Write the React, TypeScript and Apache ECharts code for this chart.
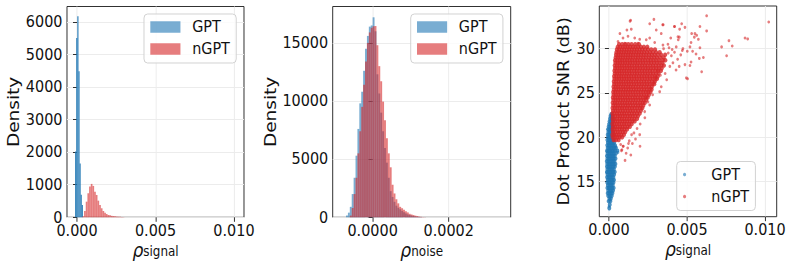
import React, { useEffect, useRef } from 'react';
import * as echarts from 'echarts';

// ---------- data ----------
// Panel 1: histogram of rho_signal (density)
const signalGptStart = -0.00012;
const signalGptWidth = 0.00007;
const signalGptDensity = [2020, 5500, 6170, 4480, 1650, 690, 380];
const signalNgptStart = 0.00034;
const signalNgptWidth = 0.000107;
const signalNgptDensity = [30, 194, 480, 738, 942, 1025, 963, 788, 686, 511, 378, 277, 194, 142, 100, 71, 60, 45, 38, 30, 22, 18, 14, 10, 6];

// Panel 2: histogram of rho_noise (density)
const noiseStart = -0.00007;
const noiseWidth = 0.000005;
const noiseGptDensity = [150, 400, 900, 2000, 3400, 5300, 7600, 9800, 10800, 12600, 14500, 15600, 16400, 16500, 17200, 16000, 12300, 10650, 9000, 7400, 5950, 4700, 3400, 2250, 1750, 1330, 1000, 820, 690, 550, 430, 330, 250, 200, 150, 110, 70, 50, 30, 20, 10, 5];
const noiseNgptDensity = [0, 0, 150, 800, 2000, 3400, 5500, 7400, 9500, 11400, 13400, 15000, 15900, 16300, 16430, 16450, 14800, 13000, 11700, 9950, 8350, 6800, 5500, 4300, 2800, 2050, 1550, 1200, 900, 780, 650, 520, 420, 300, 240, 195, 140, 105, 60, 40, 20, 10];

// Panel 3: scatter, rho_signal (x, in units of 1e-4) vs SNR (dB)
const X_UNIT = 1e-4;
const gptRows: [number, number[]][] = [
  [12.0, [0.2]], [12.4, [0.5]], [12.8, [-0.2, 0.9]], [13.1, [0.3, 1.2]],
  [13.4, [-0.5, 0.6, 1.8]], [13.7, [-0.8, 0.2, 1.2, 2.2]], [14.0, [-0.5, 0.6, 1.6, 2.6]],
  [14.3, [-1.0, 0.0, 1.0, 2.0, 3.0]], [14.6, [-0.7, 0.4, 1.4, 2.4]], [14.9, [-1.1, -0.1, 0.9, 1.9, 2.9]],
  [15.2, [-0.8, 0.3, 1.3, 2.3, 3.2]], [15.5, [-1.2, -0.2, 0.8, 1.8, 2.8]], [15.8, [-0.9, 0.2, 1.2, 2.2, 3.3]],
  [16.1, [-1.3, -0.3, 0.7, 1.7, 2.7, 3.7]], [16.4, [-1.0, 0.1, 1.1, 2.1, 3.1]], [16.7, [-1.3, -0.3, 0.7, 1.7, 2.7, 3.8]],
  [17.0, [-1.1, 0.0, 1.0, 2.0, 3.0, 4.1]], [17.3, [-1.4, -0.4, 0.6, 1.6, 2.6, 3.5]], [17.6, [-1.0, 0.0, 1.0, 2.0, 3.0, 4.2]],
  [17.9, [-1.3, -0.3, 0.7, 1.7, 2.7, 3.7]], [18.2, [-0.9, 0.1, 1.1, 2.1, 3.1, 4.5]], [18.5, [-1.2, -0.2, 0.8, 1.8, 2.8, 3.8, 5.4]],
  [18.8, [-0.8, 0.2, 1.2, 2.2, 3.2, 4.4]], [19.1, [-1.1, -0.1, 0.9, 1.9, 2.9, 3.9]], [19.4, [-0.7, 0.3, 1.3, 2.3, 3.3]],
  [19.7, [-1.0, 0.0, 1.0, 2.0, 3.0]], [20.0, [-0.6, 0.4, 1.4, 2.4]], [20.3, [-0.8, 0.1, 1.1, 2.1, 3.0]],
  [20.6, [-0.4, 0.6, 1.6, 2.5]], [20.9, [-0.6, 0.3, 1.3, 2.3]], [21.2, [-0.2, 0.8, 1.8, 2.7]],
  [21.5, [0.1, 1.1, 2.1]], [21.8, [0.4, 1.4, 2.4]], [22.1, [0.7, 1.7, 2.6]], [22.4, [1.0, 2.0]], [22.6, [1.5]],
];
const gptStray: [number, number][] = [[0.0, 12.2], [0.6, 13.0], [-1.6, 16.0], [4.6, 18.9], [5.8, 18.3], [-1.5, 18.4]];
const ngptRows: [number, number[]][] = [
  [19.7, [3, 4.5, 6.2]],
  [20.0, [2.4, 3.8, 5.3, 6.8, 8.4]],
  [20.3, [2.2, 3.4, 4.9, 6.3, 7.9, 9.6]],
  [20.6, [2.6, 4.1, 5.6, 7.2, 8.8, 10.4]],
  [20.9, [2.3, 3.7, 5.2, 6.8, 8.3, 9.9, 11.6]],
  [21.2, [2.5, 4.0, 5.5, 7.1, 8.6, 10.2, 11.9, 13.4]],
  [21.5, [2.2, 3.6, 5.1, 6.6, 8.2, 9.8, 11.3, 13.0, 14.6]],
  [21.8, [2.6, 4.0, 5.5, 7.0, 8.6, 10.1, 11.7, 13.3, 15.0, 16.5]],
  [22.1, [2.3, 3.7, 5.2, 6.8, 8.3, 9.9, 11.5, 13.1, 14.7, 16.4, 18.0]],
  [22.4, [2.5, 4.0, 5.6, 7.1, 8.7, 10.3, 11.9, 13.5, 15.1, 16.8, 18.6]],
  [22.7, [2.2, 3.6, 5.2, 6.7, 8.3, 9.8, 11.4, 13.0, 14.7, 16.3, 18.0, 19.7]],
  [23.0, [2.6, 4.1, 5.6, 7.2, 8.8, 10.4, 12.0, 13.6, 15.2, 16.9, 18.6, 20.4]],
  [23.3, [2.3, 3.8, 5.3, 6.9, 8.4, 10.0, 11.6, 13.2, 14.8, 16.5, 18.2, 19.9, 21.4]],
  [23.6, [2.7, 4.2, 5.7, 7.3, 8.9, 10.5, 12.1, 13.7, 15.4, 17.0, 18.7, 20.3, 22.0]],
  [23.9, [2.4, 3.9, 5.4, 7.0, 8.6, 10.2, 11.8, 13.4, 15.0, 16.7, 18.4, 20.1, 21.7, 23.0]],
  [24.2, [2.8, 4.3, 5.8, 7.4, 9.0, 10.6, 12.2, 13.8, 15.5, 17.1, 18.8, 20.5, 22.2, 23.8]],
  [24.5, [2.5, 4.0, 5.6, 7.1, 8.7, 10.3, 11.9, 13.5, 15.2, 16.8, 18.5, 20.2, 21.9, 23.5, 24.8]],
  [24.8, [2.9, 4.4, 6.0, 7.5, 9.1, 10.7, 12.3, 13.9, 15.6, 17.2, 18.9, 20.6, 22.3, 24.0, 25.6]],
  [25.1, [2.7, 4.2, 5.7, 7.3, 8.9, 10.5, 12.1, 13.7, 15.3, 17.0, 18.7, 20.4, 22.1, 23.7, 25.3, 26.6]],
  [25.4, [3.1, 4.6, 6.1, 7.7, 9.3, 10.9, 12.5, 14.1, 15.8, 17.4, 19.1, 20.8, 22.5, 24.2, 25.9, 27.3]],
  [25.7, [2.9, 4.4, 5.9, 7.5, 9.1, 10.7, 12.3, 13.9, 15.5, 17.2, 18.9, 20.6, 22.3, 24.0, 25.7, 27.5]],
  [26.0, [3.3, 4.8, 6.3, 7.9, 9.5, 11.1, 12.7, 14.3, 16.0, 17.6, 19.3, 21.0, 22.7, 24.4, 26.1, 27.8, 29.0]],
  [26.3, [3.1, 4.6, 6.2, 7.7, 9.3, 10.9, 12.5, 14.1, 15.7, 17.4, 19.1, 20.8, 22.5, 24.2, 25.9, 27.6, 29.4]],
  [26.6, [3.5, 5.0, 6.5, 8.1, 9.7, 11.3, 12.9, 14.5, 16.2, 17.8, 19.5, 21.2, 22.9, 24.6, 26.3, 28.0, 29.7, 30.8]],
  [26.9, [3.3, 4.8, 6.4, 7.9, 9.5, 11.1, 12.7, 14.3, 16.0, 17.6, 19.3, 21.0, 22.7, 24.4, 26.1, 27.9, 29.6, 31.3]],
  [27.2, [3.7, 5.2, 6.7, 8.3, 9.9, 11.5, 13.1, 14.7, 16.4, 18.0, 19.7, 21.4, 23.1, 24.8, 26.5, 28.2, 30.0, 31.8]],
  [27.5, [3.5, 5.0, 6.6, 8.1, 9.7, 11.3, 12.9, 14.5, 16.2, 17.8, 19.5, 21.2, 22.9, 24.6, 26.3, 28.0, 29.8, 31.6, 33.3]],
  [27.8, [3.9, 5.4, 6.9, 8.5, 10.1, 11.7, 13.3, 14.9, 16.6, 18.2, 19.9, 21.6, 23.3, 25.0, 26.7, 28.5, 30.2, 32.0, 33.8]],
  [28.1, [3.7, 5.2, 6.8, 8.3, 9.9, 11.5, 13.1, 14.7, 16.4, 18.0, 19.7, 21.4, 23.1, 24.8, 26.6, 28.3, 30.1, 31.9, 33.7, 35.2]],
  [28.4, [4.1, 5.6, 7.1, 8.7, 10.3, 11.9, 13.5, 15.1, 16.8, 18.4, 20.1, 21.8, 23.5, 25.3, 27.0, 28.8, 30.6, 32.4, 34.3]],
  [28.7, [3.9, 5.4, 7.0, 8.5, 10.1, 11.7, 13.3, 14.9, 16.6, 18.2, 19.9, 21.6, 23.3, 25.1, 26.8, 28.6, 30.4, 32.3, 34.5, 36.1]],
  [29.0, [4.3, 5.8, 7.3, 8.9, 10.5, 12.1, 13.7, 15.3, 17.0, 18.6, 20.3, 22.0, 23.7, 25.5, 27.2, 29.0, 30.8, 32.8, 35.0]],
  [29.3, [4.5, 6.0, 7.5, 9.1, 10.7, 12.3, 13.9, 15.5, 17.2, 18.8, 20.5, 22.2, 23.9, 25.7, 27.5, 29.3, 31.2, 33.4, 36.0]],
  [29.6, [4.8, 6.3, 7.9, 9.5, 11.1, 12.7, 14.3, 15.9, 17.6, 19.2, 20.9, 22.6, 24.4, 26.2, 28.1, 30.2, 32.5]],
  [29.9, [5.1, 6.6, 8.2, 9.8, 11.4, 13.0, 14.6, 16.3, 17.9, 19.6, 21.3, 23.1, 25.0, 27.1, 29.5]],
  [30.2, [5.6, 7.2, 8.8, 10.4, 12.0, 13.6, 15.3, 17.0, 18.7, 20.5, 22.4, 24.6]],
  [30.5, [6.5, 8.5, 10.6, 12.4, 14.5, 16.8, 19.2]],
];
const ngptOutliers: [number, number][] = [
  [62.6, 33.7], [102.4, 33.0], [34.4, 32.7], [41.9, 32.5], [46.6, 32.8], [48.7, 32.4], [58.3, 32.5], [62.6, 32.0],
  [53.0, 31.7], [55.1, 31.7], [56.2, 31.5], [54.7, 31.3], [57.3, 31.05], [45.1, 31.3], [44.4, 31.0], [76.9, 30.9],
  [87.2, 31.2], [88.9, 31.1], [79.0, 30.3], [72.2, 30.2], [75.4, 29.2], [52.6, 30.7], [51.9, 30.2], [58.3, 30.1],
  [53.6, 29.7], [55.8, 29.4], [60.5, 29.0], [57.9, 28.9], [52.6, 28.5], [51.9, 28.1], [48.7, 28.2], [59.4, 27.4],
  [50.4, 26.6], [28.8, 33.3], [13.5, 33.1], [34.8, 32.7], [19.9, 19.0], [10.3, 17.4], [7.0, 31.7], [13.9, 33.2],
  [26.1, 32.8], [11.5, 32.1], [14.3, 32.2], [30.3, 32.1], [42.1, 32.5], [45.3, 32.2], [33.5, 31.7], [9.0, 31.2],
  [12.2, 31.4], [16.5, 31.2], [19.7, 31.05], [23.9, 31.0], [26.1, 31.2], [39.6, 31.2], [44.2, 31.35], [5.8, 30.8],
  [10.1, 30.6], [18.6, 30.6], [29.3, 30.7], [34.6, 30.4], [37.8, 30.5], [43.1, 30.2], [47.4, 30.0], [50.2, 29.7],
  [49.6, 26.7], [33.5, 25.7], [32.5, 25.15], [26.1, 23.65], [22.9, 22.9],
  [38.0, 29.5], [40.0, 29.2], [42.0, 29.6], [44.0, 28.8], [46.0, 29.3], [41.0, 28.4], [39.0, 28.0], [43.0, 27.6],
  [36.0, 27.2], [37.0, 26.5], [45.0, 28.0], [47.0, 29.8], [35.0, 30.0], [38.5, 30.1], [40.5, 29.9],
  [24.0, 24.5], [27.0, 25.5], [29.0, 26.2], [30.0, 26.8], [21.0, 23.2], [25.0, 24.0], [31.0, 27.5], [33.0, 27.0],
  [28.0, 24.8], [23.0, 22.2], [20.0, 21.5], [18.0, 21.0], [16.0, 20.5], [17.0, 19.8], [13.0, 19.6], [15.0, 19.3],
  [12.0, 18.8], [9.0, 19.0], [11.0, 18.2], [8.0, 18.5], [14.0, 18.0], [7.5, 19.2], [9.2, 19.0], [8.3, 18.6],
  [12.5, 19.3], [14.5, 20.3], [19.7, 20.3],
];

// tick labels
const signalTicks = [0, 0.005, 0.01];
const noiseTicks = [0, 0.0002];
const density1Ticks = [0, 1000, 2000, 3000, 4000, 5000, 6000];
const density2Ticks = [0, 5000, 10000, 15000];
const snrTicks = [15, 20, 25, 30];

// ---------- styling ----------
const SX = 0.9; // the reference figure is squeezed horizontally
const W = 793;
const H = 262;
const IW = W / SX;
const FONT = 'DejaVu Sans';
const TXT = '#111111';
const FRAME = '#262626';
const BLUE_A = 'rgba(31,119,180,0.6)';
const RED_A = 'rgba(214,39,40,0.6)';

const toBins = (start: number, width: number, h: number[]) =>
  h.map((v, i) => [start + i * width, start + (i + 1) * width, v]);
const rowsToPoints = (rows: [number, number[]][]) => {
  const out: number[][] = [];
  rows.forEach(([y, xs]) => xs.forEach((x) => out.push([x * X_UNIT, y])));
  return out;
};
const scalePts = (pts: [number, number][]) => pts.map(([x, y]) => [x * X_UNIT, y]);

const hist = (name: string, idx: number, data: number[][], color: string) => ({
  type: 'custom',
  name,
  xAxisIndex: idx,
  yAxisIndex: idx,
  data,
  silent: true,
  encode: { x: [0, 1], y: 2 },
  itemStyle: { color },
  renderItem: (_p: any, api: any) => {
    const a = api.coord([api.value(0), api.value(2)]);
    const b = api.coord([api.value(1), 0]);
    return {
      type: 'rect',
      shape: { x: a[0], y: a[1], width: b[0] - a[0], height: b[1] - a[1] },
      style: { fill: color },
    };
  },
});

const xName = (sub: string) => `{r|ρ}{s|${sub}}`;
const xNameStyle = {
  color: TXT,
  fontFamily: FONT,
  rich: {
    r: { fontFamily: FONT, fontSize: 19, fontStyle: 'italic', color: TXT, padding: [0, 0, 3, 0] },
    s: { fontFamily: FONT, fontSize: 13.3, color: TXT },
  },
};

const mkX = (idx: number, min: number, max: number, ticks: number[], dec: number, sub: string) => ({
  type: 'value',
  gridIndex: idx,
  min,
  max,
  name: xName(sub),
  nameLocation: 'middle',
  nameGap: 23,
  nameMoveOverlap: false,
  nameTextStyle: xNameStyle,
  axisLine: { show: false },
  axisTick: { show: true, length: 4.5, customValues: ticks, lineStyle: { color: FRAME, width: 1 } },
  axisLabel: { customValues: ticks, formatter: (v: number) => v.toFixed(dec), fontFamily: FONT, fontSize: 16, lineHeight: 13, color: TXT, margin: 7 },
  splitLine: { show: true, lineStyle: { color: '#ebebeb', width: 1 } },
});

const mkY = (idx: number, min: number, max: number, ticks: number[], name: string, gap: number, nameSize: number) => ({
  type: 'value',
  gridIndex: idx,
  min,
  max,
  name,
  nameLocation: 'middle',
  nameGap: gap,
  nameMoveOverlap: false,
  nameTextStyle: { fontFamily: FONT, fontSize: nameSize, color: TXT },
  axisLine: { show: false },
  axisTick: { show: true, length: 4.5, customValues: ticks, lineStyle: { color: FRAME, width: 1 } },
  axisLabel: { customValues: ticks, formatter: (v: number) => String(v), fontFamily: FONT, fontSize: 16, lineHeight: 13, color: TXT, margin: 5 },
  splitLine: { show: true, lineStyle: { color: '#ebebeb', width: 1 } },
});

const mkLegend = (left: number, top: number, icon: string, iw: number, ih: number) => ({
  orient: 'vertical',
  left,
  top,
  selectedMode: false,
  itemWidth: iw,
  itemHeight: ih,
  itemGap: 6,
  padding: [5, 7, 6, 7],
  backgroundColor: 'rgba(255,255,255,0.8)',
  borderColor: '#d0d0d0',
  borderWidth: 1,
  borderRadius: 4,
  textStyle: { fontFamily: FONT, fontSize: 16, color: TXT, padding: [0, 0, 0, 8] },
  data: [
    { name: 'GPT', icon, itemStyle: { color: BLUE_A } },
    { name: 'nGPT', icon, itemStyle: { color: RED_A } },
  ],
});

export default function App() {
  const ref = useRef<HTMLDivElement>(null);
  useEffect(() => {
    document.body.style.margin = '0';
    const chart = echarts.init(ref.current as HTMLDivElement, null, { renderer: 'svg' });
    const grid = (left: number, right: number, top: number, bottom: number) => ({
      left: left / SX,
      width: (right - left) / SX,
      top,
      height: bottom - top,
      outerBoundsMode: 'none',
      containLabel: false,
      show: true,
      borderColor: FRAME,
      borderWidth: 1,
      backgroundColor: 'transparent',
    });
    const option: any = {
      animation: false,
      grid: [grid(67, 244, 6.5, 217.3), grid(332.7, 510.7, 6.5, 217.3), grid(599.3, 776.7, 6, 216.7)],
      xAxis: [
        mkX(0, -0.00064, 0.01064, signalTicks, 3, 'signal'),
        mkX(1, -0.000105, 0.000363, noiseTicks, 4, 'noise'),
        mkX(2, -0.00062, 0.01075, signalTicks, 3, 'signal'),
      ],
      yAxis: [
        mkY(0, 0, 6470, density1Ticks, 'Density', 50, 18.5),
        mkY(1, 0, 18130, density2Ticks, 'Density', 60, 18.5),
        mkY(2, 11.05, 34.81, snrTicks, 'Dot Product SNR (dB)', 31, 17.6),
      ],
      legend: [
        mkLegend(144 / SX, 14, 'rect', 33.5, 11.5),
        mkLegend(410.7 / SX, 14, 'rect', 33.5, 11.5),
        mkLegend(676.7 / SX, 161.5, 'circle', 33.5, 3.5),
      ],
      series: [
        hist('GPT', 0, toBins(signalGptStart, signalGptWidth, signalGptDensity), '#1f77b4'),
        hist('nGPT', 0, toBins(signalNgptStart, signalNgptWidth, signalNgptDensity), RED_A),
        hist('GPT', 1, toBins(noiseStart, noiseWidth, noiseGptDensity), BLUE_A),
        hist('nGPT', 1, toBins(noiseStart, noiseWidth, noiseNgptDensity), RED_A),
        {
          type: 'scatter', name: 'GPT', xAxisIndex: 2, yAxisIndex: 2, silent: true,
          data: rowsToPoints(gptRows), symbolSize: 4.4, itemStyle: { color: '#1f77b4', opacity: 0.8 },
        },
        {
          type: 'scatter', name: 'GPT', xAxisIndex: 2, yAxisIndex: 2, silent: true,
          data: scalePts(gptStray), symbolSize: 3, itemStyle: { color: '#1f77b4', opacity: 0.6 },
        },
        {
          type: 'scatter', name: 'nGPT', xAxisIndex: 2, yAxisIndex: 2, silent: true,
          data: rowsToPoints(ngptRows), symbolSize: 4.6, itemStyle: { color: '#d62728', opacity: 0.8 },
        },
        {
          type: 'scatter', name: 'nGPT', xAxisIndex: 2, yAxisIndex: 2, silent: true,
          data: scalePts(ngptOutliers), symbolSize: 3, itemStyle: { color: '#d62728', opacity: 0.6 },
        },
      ],
    };
    chart.setOption(option);
    return () => chart.dispose();
  }, []);
  return (
    <div style={{ width: W, height: H, overflow: 'hidden' }}>
      <div ref={ref} style={{ width: IW, height: H, transform: `scaleX(${SX})`, transformOrigin: '0 0' }} />
    </div>
  );
}
